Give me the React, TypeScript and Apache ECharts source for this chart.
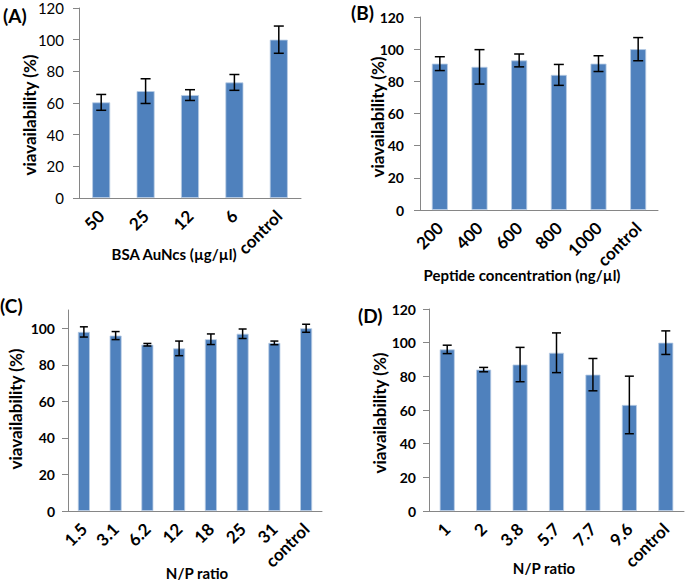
import React, { useEffect, useRef } from "react";
import * as echarts from "echarts";

const catsA = ["50", "25", "12", "6", "control"];
const valsA = [60.4, 67.5, 65, 73, 100];
const errA = [5, 7.8, 3.4, 5, 8.6];

const catsB = ["200", "400", "600", "800", "1000", "control"];
const valsB = [91, 89, 93, 84, 91, 100];
const errB = [4.3, 10.7, 4, 6.5, 4.9, 7.2];

const catsC = ["1.5", "3.1", "6.2", "12", "18", "25", "31", "control"];
const valsC = [98, 96, 91, 89, 94, 97, 92, 100];
const errC = [2.8, 2.2, 0.7, 4, 2.9, 2.6, 1, 2.2];

const catsD = ["1", "2", "3.8", "5.7", "7.7", "9.6", "control"];
const valsD = [96, 84, 87, 94, 81, 63, 100];
const errD = [2.5, 1.3, 10.2, 11.8, 9.6, 17.1, 7];

const yTitle = "viavailability (%)";
const xTitles = ["BSA AuNcs (µg/µl)", "Peptide concentration (ng/µl)", "N/P ratio", "N/P ratio"];
const panelLabels = ["(A)", "(B)", "(C)", "(D)"];

const FONT = "Lato, 'Open Sans', sans-serif";
const BAR = "#4F81BD";
const AXIS = "#868686";

export default function App() {
  const ref = useRef<HTMLDivElement>(null);
  useEffect(() => {
    if (!ref.current) return;
    const chart = echarts.init(ref.current, null, { renderer: "svg" });

    const panels = [
      { cats: catsA, vals: valsA, errs: errA, grid: { left: 79, top: 8, width: 222, height: 190 }, max: 120, barWidth: 18, cap: 10, boldY: false, yMargin: 15 },
      { cats: catsB, vals: valsB, errs: errB, grid: { left: 420, top: 17, width: 238, height: 193 }, max: 120, barWidth: 16, cap: 10, boldY: true, yMargin: 16 },
      { cats: catsC, vals: valsC, errs: errC, grid: { left: 68, top: 310, width: 254, height: 201 }, max: 110, barWidth: 12, cap: 8, boldY: true, yMargin: 13 },
      { cats: catsD, vals: valsD, errs: errD, grid: { left: 429, top: 309, width: 255, height: 202 }, max: 120, barWidth: 15, cap: 9, boldY: true, yMargin: 13 },
    ];

    const grid = panels.map((p) => p.grid);
    const xAxis = panels.map((p, i) => ({
      type: "category",
      gridIndex: i,
      data: p.cats,
      axisLine: { lineStyle: { color: AXIS, width: 1 } },
      axisTick: { show: false },
      axisLabel: {
        rotate: 45,
        interval: 0,
        margin: 15,
        color: "#000",
        fontFamily: FONT,
        fontWeight: "bold",
        fontSize: 17,
      },
    }));
    const yAxis = panels.map((p, i) => ({
      type: "value",
      gridIndex: i,
      min: 0,
      max: p.max,
      interval: 20,
      axisLine: { show: true, lineStyle: { color: AXIS, width: 1 } },
      axisTick: { show: true, length: 6, lineStyle: { color: AXIS } },
      splitLine: { show: false },
      axisLabel: {
        color: "#000",
        margin: p.yMargin,
        fontFamily: FONT,
        fontWeight: p.boldY ? "bold" : "normal",
        fontSize: p.boldY ? 14 : 15,
        showMaxLabel: p.max % 20 === 0,
      },
    }));

    const series: any[] = [];
    panels.forEach((p, i) => {
      series.push({
        type: "bar",
        xAxisIndex: i,
        yAxisIndex: i,
        data: p.vals,
        barWidth: p.barWidth,
        itemStyle: { color: BAR, borderColor: "#B9CDE5", borderWidth: 0.8 },
      });
      const cap = p.cap;
      series.push({
        type: "custom",
        xAxisIndex: i,
        yAxisIndex: i,
        data: p.vals.map((v, k) => [k, v - p.errs[k], v + p.errs[k]]),
        encode: { x: 0, y: [1, 2] },
        z: 10,
        renderItem: (params: any, api: any) => {
          const x = api.value(0);
          const lo = api.coord([x, api.value(1)]);
          const hi = api.coord([x, api.value(2)]);
          const style = { stroke: "#000", lineWidth: 1.5, fill: "none" };
          return {
            type: "group",
            children: [
              { type: "line", shape: { x1: lo[0], y1: lo[1], x2: hi[0], y2: hi[1] }, style },
              { type: "line", shape: { x1: lo[0] - cap / 2, y1: lo[1], x2: lo[0] + cap / 2, y2: lo[1] }, style },
              { type: "line", shape: { x1: hi[0] - cap / 2, y1: hi[1], x2: hi[0] + cap / 2, y2: hi[1] }, style },
            ],
          };
        },
      });
    });

    const yTitlePos = [
      [29, 115],
      [377, 117],
      [15, 409],
      [379, 413],
    ];
    const xTitlePos = [
      [174, 254],
      [522, 275],
      [197, 573],
      [544, 568],
    ];
    const labelPos = [
      [3, 6],
      [351, 3],
      [0, 296],
      [358, 306],
    ];

    const graphic: any[] = [];
    yTitlePos.forEach(([x, y]) => {
      graphic.push({
        type: "text",
        x,
        y,
        rotation: Math.PI / 2,
        style: {
          text: yTitle,
          fontFamily: FONT,
          fontWeight: "bold",
          fontSize: 17,
          fill: "#000",
          align: "center",
          verticalAlign: "middle",
        },
      });
    });
    xTitlePos.forEach(([x, y], i) => {
      graphic.push({
        type: "text",
        x,
        y,
        style: {
          text: xTitles[i],
          fontFamily: FONT,
          fontWeight: "bold",
          fontSize: 15,
          fill: "#000",
          align: "center",
          verticalAlign: "middle",
        },
      });
    });
    labelPos.forEach(([x, y], i) => {
      graphic.push({
        type: "text",
        x,
        y,
        style: {
          text: panelLabels[i],
          fontFamily: FONT,
          fontWeight: "bold",
          fontSize: 19,
          fill: "#000",
          align: "left",
          verticalAlign: "top",
        },
      });
    });

    chart.setOption({
      animation: false,
      backgroundColor: "#fff",
      grid,
      xAxis,
      yAxis,
      series,
      graphic,
    });
    return () => chart.dispose();
  }, []);

  return (
    <div
      ref={ref}
      style={{ position: "fixed", left: 0, top: 0, width: 685, height: 582 }}
    />
  );
}
